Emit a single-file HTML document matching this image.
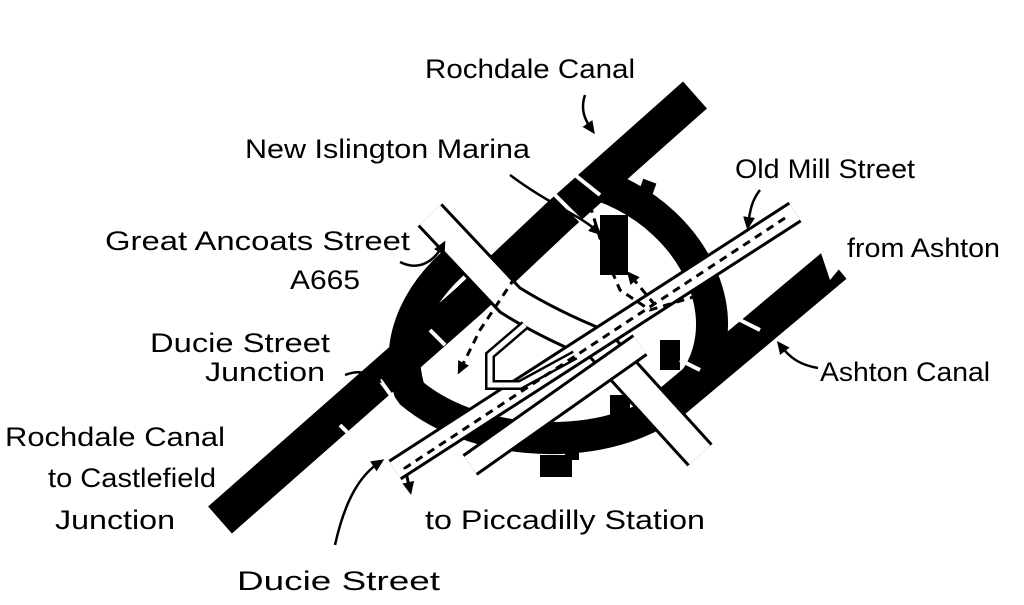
<!DOCTYPE html>
<html><head><meta charset="utf-8"><style>
html,body{margin:0;padding:0;background:#fff;}
svg{display:block}
text{font-family:"Liberation Sans",sans-serif;font-size:27px;fill:#000;}
</style></head><body>
<svg width="1024" height="605" viewBox="0 0 1024 605" xmlns="http://www.w3.org/2000/svg">
<defs><marker id="ah" markerUnits="userSpaceOnUse" markerWidth="14" markerHeight="14" refX="8" refY="7" orient="auto"><path d="M0,1 L13,7 L0,13 z" fill="#000"/></marker></defs>
<!-- ring -->
<path d="M600 185 C700 220 745 330 685 392 C620 455 480 452 410 392 C392 340 420 285 470 250" fill="none" stroke="#000" stroke-width="32"/>
<!-- Rochdale canal -->
<path d="M220 520 L470 300 L560 215 L695 95" fill="none" stroke="#000" stroke-width="36"/>
<!-- Ashton canal -->
<path d="M835 265 L650 420" fill="none" stroke="#000" stroke-width="36"/>
<path d="M820 250 L845 262 L830 280 z" fill="#fff"/>
<!-- blocks -->
<rect x="636" y="180" width="14" height="40" fill="#000" transform="rotate(20 643 200)"/>
<rect x="600" y="215" width="28" height="60" fill="#000"/>
<rect x="660" y="340" width="20" height="30" fill="#000"/>
<rect x="540" y="455" width="32" height="22" fill="#000"/>
<rect x="565" y="440" width="14" height="20" fill="#000"/>
<rect x="610" y="395" width="20" height="20" fill="#000"/>
<!-- canal breaks -->
<g stroke="#fff" stroke-width="4">
<line x1="555" y1="195" x2="585" y2="225"/>
<line x1="575" y1="175" x2="600" y2="195"/>
<line x1="380" y1="380" x2="398" y2="405"/>
<line x1="340" y1="425" x2="360" y2="445"/>
<line x1="430" y1="330" x2="445" y2="345"/>
<line x1="680" y1="360" x2="700" y2="370"/>
<line x1="740" y1="320" x2="760" y2="330"/>
</g>
<!-- roads -->
<g fill="none" stroke-linecap="butt">
<path d="M430 215 L510 300 Q550 325 600 345 L700 455" stroke="#000" stroke-width="34"/>
<path d="M430 215 L510 300 Q550 325 600 345 L700 455" stroke="#fff" stroke-width="28"/>
<path d="M795 212 L395 470" stroke="#000" stroke-width="24"/>
<path d="M795 212 L395 470" stroke="#fff" stroke-width="18"/>
<path d="M640 345 L470 465" stroke="#000" stroke-width="26"/>
<path d="M640 345 L470 465" stroke="#fff" stroke-width="20"/>
<path d="M525 325 L490 355 L490 385 L520 385 L575 355" stroke="#000" stroke-width="10"/>
<path d="M525 325 L490 355 L490 385 L520 385 L575 355" stroke="#fff" stroke-width="5"/>
</g>
<!-- dashed routes -->
<g fill="none" stroke="#000" stroke-width="3" stroke-dasharray="8 6">
<path d="M785 218 L405 468 L410 490" marker-end="url(#ah)"/>
<path d="M575 200 L520 270 L500 300 L480 330 L460 370" marker-end="url(#ah)"/>
<path d="M590 205 L605 255 L620 290 L650 310 L700 295 L720 320 L710 360" />
<path d="M655 305 L630 275" marker-end="url(#ah)"/>
</g>
<!-- pointer arrows -->
<g fill="none" stroke="#000" stroke-width="2.5">
<path d="M585 95 C580 110 585 120 592 130" marker-end="url(#ah)"/>
<path d="M510 175 C550 205 580 215 598 232" marker-end="url(#ah)"/>
<path d="M760 190 C752 200 750 210 748 225" marker-end="url(#ah)"/>
<path d="M400 262 C420 272 435 260 443 245" marker-end="url(#ah)"/>
<path d="M345 375 C358 370 368 372 378 380" marker-end="url(#ah)"/>
<path d="M818 368 C800 365 790 358 780 345" marker-end="url(#ah)"/>
<path d="M335 545 C345 500 360 475 380 462" marker-end="url(#ah)"/>
</g>
<!-- labels -->
<text x="425" y="78" textLength="210" lengthAdjust="spacingAndGlyphs">Rochdale Canal</text>
<text x="245" y="158" textLength="285" lengthAdjust="spacingAndGlyphs">New Islington Marina</text>
<text x="735" y="178" textLength="180" lengthAdjust="spacingAndGlyphs">Old Mill Street</text>
<text x="105" y="250" textLength="305" lengthAdjust="spacingAndGlyphs">Great Ancoats Street</text>
<text x="290" y="289" textLength="70" lengthAdjust="spacingAndGlyphs">A665</text>
<text x="847" y="257" textLength="153" lengthAdjust="spacingAndGlyphs">from Ashton</text>
<text x="150" y="352" textLength="180" lengthAdjust="spacingAndGlyphs">Ducie Street</text>
<text x="205" y="381" textLength="120" lengthAdjust="spacingAndGlyphs">Junction</text>
<text x="820" y="381" textLength="170" lengthAdjust="spacingAndGlyphs">Ashton Canal</text>
<text x="5" y="446" textLength="220" lengthAdjust="spacingAndGlyphs">Rochdale Canal</text>
<text x="48" y="487" textLength="168" lengthAdjust="spacingAndGlyphs">to Castlefield</text>
<text x="55" y="529" textLength="120" lengthAdjust="spacingAndGlyphs">Junction</text>
<text x="425" y="529" textLength="280" lengthAdjust="spacingAndGlyphs">to Piccadilly Station</text>
<text x="237" y="590" textLength="203" lengthAdjust="spacingAndGlyphs">Ducie Street</text>
</svg>
</body></html>
